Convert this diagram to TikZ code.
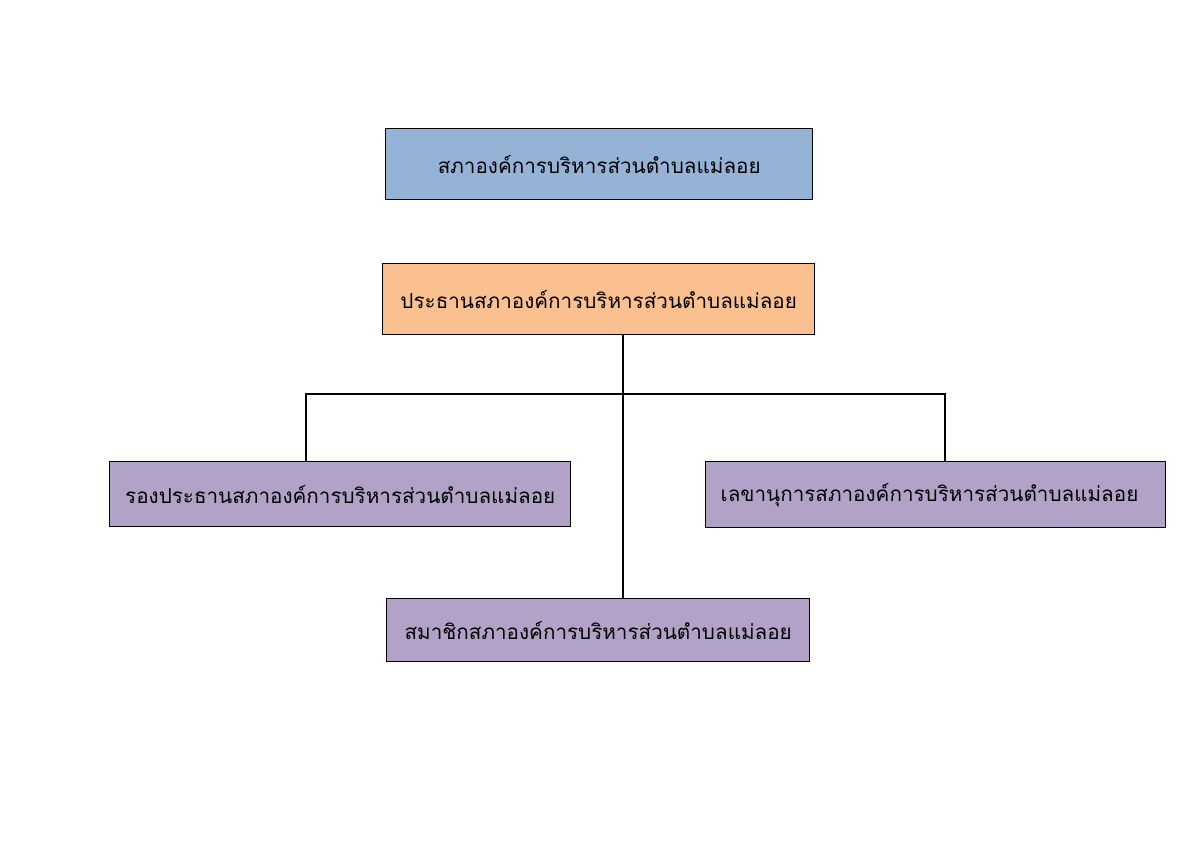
\documentclass[tikz,border=0pt]{standalone}
\usepackage{fontspec}
\newfontfamily\thaifont[Script=Thai]{Loma}
\usetikzlibrary{positioning}
\definecolor{boxblue}{HTML}{95B3D7}
\definecolor{boxorange}{HTML}{FAC090}
\definecolor{boxpurple}{HTML}{B3A2C7}

\begin{document}
\begin{tikzpicture}[x=0.02cm,y=-0.02cm,
    org/.style={draw, thick, anchor=north west, inner sep=0pt,
      font=\thaifont\fontsize{11.75}{14}\selectfont},
    link/.style={draw, semithick}]
\useasboundingbox[fill=white] (0,0) rectangle (1200,845);
  \node[org, fill=boxblue, minimum width=427*0.02cm, minimum height=71*0.02cm] (sapha) at (385,128) {สภาองค์การบริหารส่วนตำบลแม่ลอย};
  \node[org, fill=boxorange, minimum width=432*0.02cm, minimum height=71*0.02cm] (prathan) at (382,263) {ประธานสภาองค์การบริหารส่วนตำบลแม่ลอย};
  \node[org, fill=boxpurple, minimum width=461*0.02cm, minimum height=65*0.02cm] (rong) at (109,461) {รองประธานสภาองค์การบริหารส่วนตำบลแม่ลอย};
  \node[org, fill=boxpurple, minimum height=66*0.02cm, inner xsep=15*0.02cm, text width=430*0.02cm, align=left] (lekha) at (705,461) {เลขานุการสภาองค์การบริหารส่วนตำบลแม่ลอย};
  \node[org, fill=boxpurple, minimum width=423*0.02cm, minimum height=63*0.02cm] (samachik) at (386,598) {สมาชิกสภาองค์การบริหารส่วนตำบลแม่ลอย};
\coordinate (jc) at (623,394);
\coordinate (jl) at (306,394);
\coordinate (jr) at (945,394);
\draw[link] (prathan.south -| jc) -- (samachik.north -| jc);
\draw[link] (jl |- rong.north) -- (jl) -- (jr) -- (jr |- lekha.north);
\end{tikzpicture}
\end{document}
